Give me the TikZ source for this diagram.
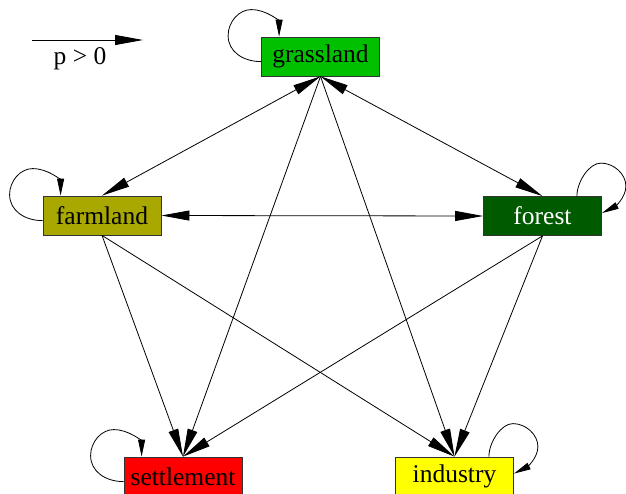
\documentclass[tikz,border=0pt]{standalone}
\usepackage{fontspec}
\setmainfont{Liberation Serif}
\usetikzlibrary{arrows.meta,calc}
\definecolor{cgrass}{RGB}{0,192,0}
\definecolor{cfarm}{RGB}{168,168,0}
\definecolor{cforest}{RGB}{0,90,0}
\definecolor{csett}{RGB}{255,0,0}
\definecolor{cind}{RGB}{255,255,0}
\tikzset{
  landbox/.style={draw=black!80, line width=0.8pt, rectangle, minimum width=118pt, minimum height=39pt, inner sep=0pt, font=\fontsize{25.5}{30}\selectfont},
  arr/.style={line width=0.8pt, -{Triangle[length=28pt,width=10pt]}},
  biarr/.style={line width=0.8pt, {Triangle[length=28pt,width=10pt]}-{Triangle[length=28pt,width=10pt]}},
  looparr/.style={line width=0.8pt, -{Triangle[length=17pt,width=7pt]}},
}
\newcommand{\myleftloop}[1]{%
  \draw[looparr] ($(#1.north west)+(0,25)$) .. controls +(-18,0) and +(0,16) .. ($(#1.north west)+(-33,-1)$)
    .. controls +(0,-14) and +(-12,0) .. ($(#1.north west)+(-10,-27)$)
    .. controls +(16,0) and +(0,-15) .. ($(#1.north west)+(18,0)$);}
\newcommand{\myrightloop}[1]{%
  \draw[looparr] ($(#1.north east)+(-25,0)$) .. controls +(0,-14) and +(-12,0) .. ($(#1.north east)+(-1,-33)$)
    .. controls +(13,0) and +(0,-12) .. ($(#1.north east)+(24,-10)$)
    .. controls +(0,12) and +(12,-6) .. ($(#1.north east)+(0,17)$);}
\begin{document}
\begin{tikzpicture}[x=1pt,y=-1pt]
\useasboundingbox (0,0) rectangle (626,493);
% legend
\coordinate (lgA) at (32,40);
\coordinate (lgB) at (143,40);
\draw[arr] (lgA) -- (lgB);
\node[font=\fontsize{25.5}{30}\selectfont, inner sep=0pt] (lgtxt) at (80,59) {p > 0};
% nodes
\node[landbox, fill=cgrass] (grass) at (320.5,56.5) {grassland};
\node[landbox, fill=cfarm] (farm) at (102,215.5) {farmland};
\node[landbox, fill=cforest, text=white] (forest) at (542.5,216) {forest};
\node[landbox, fill=csett] (sett) at (183,476.5) {settlement};
\node[landbox, fill=cind] (ind) at (454.5,476.5) {industry};
% loops
\myleftloop{grass}
\myleftloop{farm}
\myleftloop{sett}
\myrightloop{forest}
\myrightloop{ind}
% edges
\draw[biarr] (grass.south) -- (farm.north);
\draw[biarr] (grass.south) -- (forest.north);
\draw[biarr] (farm.east) -- (forest.west);
\draw[arr] (grass.south) -- (sett.north);
\draw[arr] (grass.south) -- (ind.north);
\draw[arr] (farm.south) -- (sett.north);
\draw[arr] (farm.south) -- (ind.north);
\draw[arr] (forest.south) -- (sett.north);
\draw[arr] (forest.south) -- (ind.north);
\end{tikzpicture}
\end{document}
